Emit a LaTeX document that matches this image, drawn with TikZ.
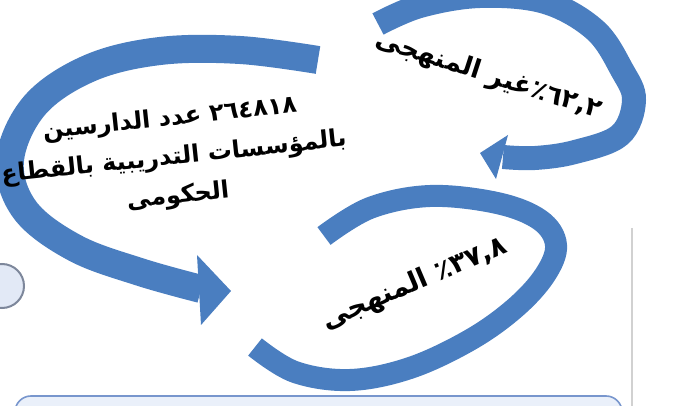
\documentclass[tikz,border=0pt]{standalone}
\usepackage{fontspec}
\usepackage{xcolor}
\usepackage{tikz}
\TeXXeTstate=1
\newfontfamily\arabicfont[Script=Arabic]{DejaVu Sans}
\definecolor{loopblue}{RGB}{74, 126, 192}
\definecolor{panelfill}{RGB}{234, 240, 250}
\definecolor{panelline}{RGB}{120, 150, 205}
\definecolor{bubblefill}{RGB}{226, 233, 246}
\definecolor{bubbleline}{RGB}{125, 135, 155}

\begin{document}
\begin{tikzpicture}[x=0.5pt, y=-0.5pt,
        band/.style={draw=loopblue, line width=#1, line cap=butt},
        bandhead/.style={fill=loopblue},
        arlabel/.style={inner sep=0pt, text=black, font=\arabicfont\bfseries}]
    \useasboundingbox (0,0) rectangle (681,406);
    \clip (0,0) rectangle (681,406);

    % Big arc on the left
    \draw[band=14pt] plot[smooth, tension=0.6] coordinates {(318,60) (240,50) (160,51) (90,68)
        (35,105) (10,160) (25,210) (75,248) (140,272) (201,289)};
    \fill[bandhead] (197,255) -- (231,291) -- (201,325) -- cycle;
    \node[arlabel, rotate=6, align=center, font=\arabicfont\bfseries\fontsize{12}{19.5}\selectfont]
        (students) at (174,158)
        {\beginR\beginL ٢٦٤٨١٨\endL{} عدد الدارسين\endR\\
         \beginR بالمؤسسات التدريبية بالقطاع\endR\\
         \beginR الحكومى\endR};

    % Loop at the top right
    \draw[band=12pt] plot[smooth, tension=0.6] coordinates {(378,24) (420,6) (480,-4) (545,2)
        (595,30) (622,70) (634,100) (620,135) (575,152) (535,158) (503,157)};
    \fill[bandhead] (508,135) -- (480,153) -- (496,179) -- cycle;
    \node[arlabel, rotate=-18, font=\arabicfont\bfseries\fontsize{13}{16}\selectfont]
        (offplan) at (489,76) {\beginR\beginL ٦٢,٢\endL٪غير المنهجى\endR};

    % Open ring at the bottom
    \draw[band=11pt] plot[smooth, tension=0.6] coordinates {(324,236) (370,208) (430,196) (497,203)
        (540,220) (556,245) (545,275) (515,308) (470,340) (410,368) (350,380) (295,372) (255,347)};
    \node[arlabel, rotate=23, font=\arabicfont\bfseries\fontsize{13.5}{16}\selectfont]
        (onplan) at (415,284) {\beginR\beginL ٣٧,٨\endL٪ المنهجى\endR};

    % Side bubble, panel and edge
    \node[circle, draw=bubbleline, fill=bubblefill, line width=1pt, minimum size=22pt, inner sep=0pt]
        (bubble) at (2,286) {};
    \draw[draw=panelline, fill=panelfill, line width=0.8pt, rounded corners=8pt]
        (15,396) rectangle (622,450);
    \draw[black!18, line width=1pt] (632,228) -- (632,406);
\end{tikzpicture}
\end{document}
